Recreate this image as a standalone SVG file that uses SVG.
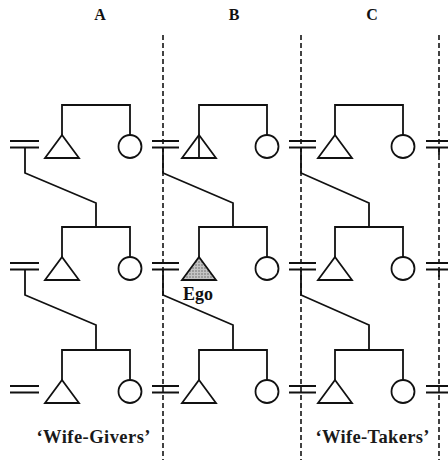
<svg xmlns="http://www.w3.org/2000/svg" width="448" height="460" viewBox="0 0 448 460">
<style>
.ln{fill:none;stroke:#111;stroke-width:1.8;stroke-linejoin:miter}
.sh{fill:#fff;stroke:#111;stroke-width:1.8}
.dash{fill:none;stroke:#222;stroke-width:1.7;stroke-dasharray:5 3}
.hd{font-family:"Liberation Serif",serif;font-weight:bold;font-size:16px;fill:#111;text-anchor:middle}
.lb{font-family:"Liberation Serif",serif;font-weight:bold;font-size:18.5px;fill:#1a1a1a;text-anchor:middle}
.ego{font-family:"Liberation Serif",serif;font-weight:bold;font-size:18px;fill:#111;text-anchor:middle}
</style>
<defs>
<pattern id="stip" width="3" height="3" patternUnits="userSpaceOnUse">
<rect width="3" height="3" fill="#c4c4c4"/>
<circle cx="1" cy="1" r="0.8" fill="#6a6a6a"/>
</pattern>
</defs>
<rect width="448" height="460" fill="#fff"/>
<g id="headers">
<text class="hd" x="100" y="20">A</text>
<text class="hd" x="234" y="20">B</text>
<text class="hd" x="372" y="20">C</text>
</g>
<g id="dividers">
<line class="dash" x1="163" y1="35" x2="163" y2="460"/>
<line class="dash" x1="301" y1="35" x2="301" y2="460"/>
<line class="dash" x1="439" y1="35" x2="439" y2="460"/>
</g>
<g id="connectors" class="ln">
<path d="M62,135 V105 H130 V135"/>
<path d="M199,135 V105 H267 V135"/>
<path d="M335,135 V105 H403 V135"/>
<path d="M62,257 V227 H130 V257"/>
<path d="M199,257 V227 H267 V257"/>
<path d="M335,257 V227 H403 V257"/>
<path d="M62,380 V350 H130 V380"/>
<path d="M199,380 V350 H267 V380"/>
<path d="M335,380 V350 H403 V380"/>
<path d="M25,147.5 V173 L96,203 V227"/>
<path d="M163,147.5 V173 L233,203 V227"/>
<path d="M301,147.5 V173 L369,203 V227"/>
<path d="M439,147.5 V155"/>
<path d="M25,269.5 V295 L96,325 V350"/>
<path d="M163,269.5 V295 L233,325 V350"/>
<path d="M301,269.5 V295 L369,325 V350"/>
<path d="M439,269.5 V277"/>
</g>
<g id="marriages" class="ln">
<path id="eq-a1" d="M10,141 H39 M10,147.5 H39"/>
<path id="eq-b1" d="M152,141 H179 M152,147.5 H179"/>
<path id="eq-c1" d="M289,141 H316 M289,147.5 H316"/>
<path id="eq-d1" d="M426,141 H448 M426,147.5 H448"/>
<path id="eq-a2" d="M10,263 H39 M10,269.5 H39"/>
<path id="eq-b2" d="M152,263 H179 M152,269.5 H179"/>
<path id="eq-c2" d="M289,263 H316 M289,269.5 H316"/>
<path id="eq-d2" d="M426,263 H448 M426,269.5 H448"/>
<path id="eq-a3" d="M10,386 H39 M10,392.5 H39"/>
<path id="eq-b3" d="M152,386 H179 M152,392.5 H179"/>
<path id="eq-c3" d="M289,386 H316 M289,392.5 H316"/>
<path id="eq-d3" d="M426,386 H448 M426,392.5 H448"/>
</g>
<g id="male-a1" class="sh"><polygon points="62,135 79,158 45,158"/></g>
<g id="female-a1" class="sh"><circle cx="130" cy="146.5" r="11.5"/></g>
<g id="male-b1"><polygon class="sh" points="199,135 216,158 182,158"/><line class="ln" x1="199" y1="135" x2="199" y2="158"/></g>
<g id="female-b1" class="sh"><circle cx="267" cy="146.5" r="11.5"/></g>
<g id="male-c1" class="sh"><polygon points="335,135 352,158 318,158"/></g>
<g id="female-c1" class="sh"><circle cx="403" cy="146.5" r="11.5"/></g>
<g id="male-a2" class="sh"><polygon points="62,257 79,280 45,280"/></g>
<g id="female-a2" class="sh"><circle cx="130" cy="268.5" r="11.5"/></g>
<g id="ego"><polygon points="199,257 216,280 182,280" fill="url(#stip)" stroke="#111" stroke-width="1.8"/><text class="ego" x="198" y="300">Ego</text></g>
<g id="female-b2" class="sh"><circle cx="267" cy="268.5" r="11.5"/></g>
<g id="male-c2" class="sh"><polygon points="335,257 352,280 318,280"/></g>
<g id="female-c2" class="sh"><circle cx="403" cy="268.5" r="11.5"/></g>
<g id="male-a3" class="sh"><polygon points="62,380 79,403 45,403"/></g>
<g id="female-a3" class="sh"><circle cx="130" cy="391.5" r="11.5"/></g>
<g id="male-b3" class="sh"><polygon points="199,380 216,403 182,403"/></g>
<g id="female-b3" class="sh"><circle cx="267" cy="391.5" r="11.5"/></g>
<g id="male-c3" class="sh"><polygon points="335,380 352,403 318,403"/></g>
<g id="female-c3" class="sh"><circle cx="403" cy="391.5" r="11.5"/></g>
<g id="labels">
<text class="lb" x="93.5" y="443" textLength="114">‘Wife-Givers’</text>
<text class="lb" x="372.5" y="443" textLength="114">‘Wife-Takers’</text>
</g>
</svg>
